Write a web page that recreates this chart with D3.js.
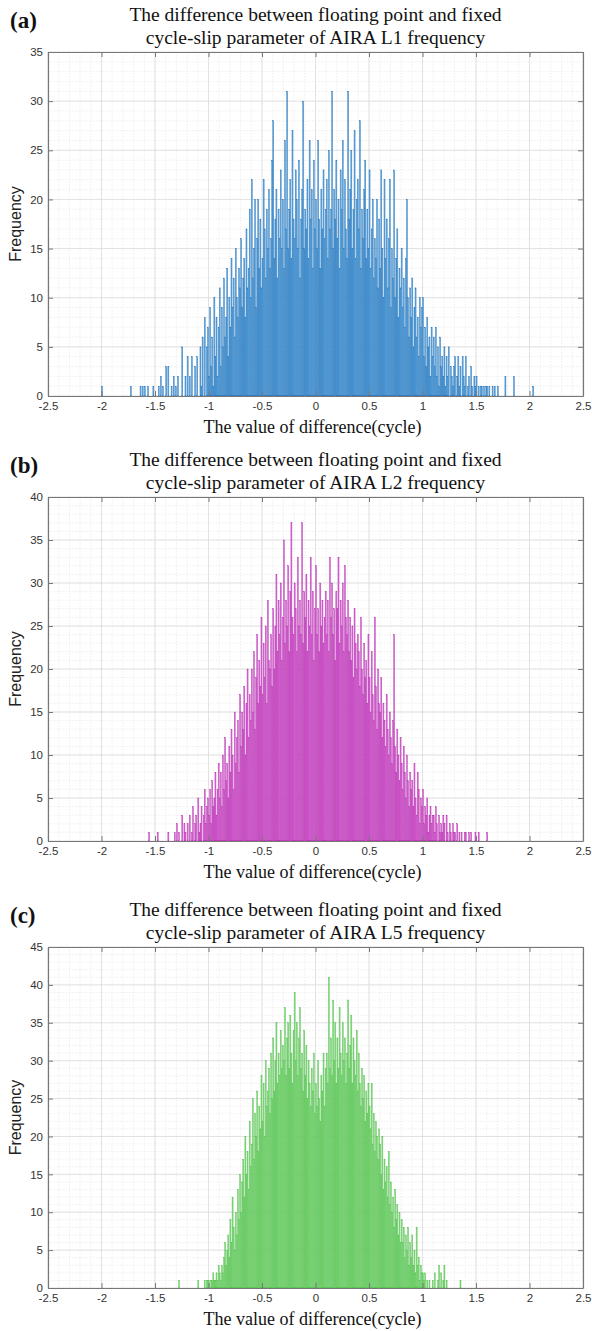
<!DOCTYPE html>
<html>
<head>
<meta charset="utf-8">
<script src="https://cdn.jsdelivr.net/npm/d3@7"></script>
<style>
  body { margin: 0; background: #fff; }
  svg { display: block; }
  .tick text { font-family: "Liberation Sans", Arial, sans-serif; font-size: 11.5px; fill: #333; }
</style>
</head>
<body>
<div id="chart"></div>
<script>
// histogram bins are 0.01 cycle wide, each row below = 10 bins (0.1 cycle)
const binWidth = 0.01;

const xTicks = [-2.5, -2, -1.5, -1, -0.5, 0, 0.5, 1, 1.5, 2, 2.5];
const xTickLabels = ["-2.5", "-2", "-1.5", "-1", "-0.5", "0", "0.5", "1", "1.5", "2", "2.5"];

const panelLetters = ["(a)", "(b)", "(c)"];
const titleLine1 = "The difference between floating point and fixed";
const titleLine2 = ["cycle-slip parameter of AIRA L1 frequency",
                    "cycle-slip parameter of AIRA L2 frequency",
                    "cycle-slip parameter of AIRA L5 frequency"];
const xLabel = "The value of difference(cycle)";
const yLabel = "Frequency";

const yMax = [35, 40, 45];

// L1, first bin starts at -2.00
const startL1 = -2.0;
const countsL1 = [
  1,0,0,0,0,0,0,0,0,0,
  0,0,0,0,0,0,0,0,0,0,
  0,0,0,0,0,0,0,1,0,0,
  0,0,0,0,0,0,1,0,1,0,
  1,0,0,1,0,0,0,0,1,0,
  0,0,0,1,0,2,0,1,0,0,
  3,0,3,0,0,1,0,2,0,1,
  0,2,0,0,0,5,0,0,2,0,
  4,0,2,0,4,0,0,3,0,4,
  0,0,5,1,6,0,8,0,5,7,
  2,9,3,6,1,10,4,8,2,7,
  11,3,9,5,12,6,8,13,4,10,
  7,14,9,12,6,15,10,8,13,11,
  16,9,12,14,8,17,11,13,19,10,
  22,12,15,20,9,16,20,13,18,11,
  14,22,17,12,19,15,21,13,16,24,
  28,14,18,21,12,19,16,23,15,20,
  13,26,17,31,15,19,22,14,27,18,
  16,23,20,15,24,12,18,21,30,15,
  19,17,22,14,26,18,21,13,24,17,
  20,15,26,18,13,21,17,23,16,19,
  22,14,25,17,19,31,15,21,18,24,
  16,20,13,23,19,26,15,22,17,14,
  31,18,21,25,15,19,27,14,20,22,
  17,28,13,19,16,21,24,14,19,15,
  23,13,17,20,12,16,14,20,11,18,
  13,23,15,10,22,14,18,11,16,22,
  9,15,12,23,10,14,17,8,13,11,
  15,9,12,7,14,20,10,6,11,8,
  12,5,9,11,6,8,4,10,7,9,
  10,4,7,3,8,5,6,2,7,4,
  6,3,7,2,5,1,6,3,4,2,
  5,1,4,2,5,0,3,2,1,3,
  4,0,2,4,1,3,0,4,2,1,
  4,0,1,2,0,3,1,0,2,1,
  2,0,1,0,1,1,0,1,0,1,
  1,0,1,0,0,1,0,1,0,0,
  1,0,0,0,0,0,0,2,0,0,
  0,0,0,0,0,2,0,0,0,0,
  0,0,0,0,0,0,0,0,0,0,
  0,0,0,1
];

// L2, first bin starts at -1.60
const startL2 = -1.6;
const countsL2 = [
  0,0,0,0,1,0,0,0,0,0,
  0,0,1,0,0,0,0,0,0,0,
  0,0,1,0,0,0,0,0,1,0,
  2,0,1,0,0,3,0,2,1,0,
  2,0,3,0,1,4,0,2,3,0,
  5,1,2,4,0,3,6,2,4,5,
  3,6,2,7,4,5,8,3,6,9,
  5,8,4,10,6,12,7,9,5,11,
  8,13,10,6,15,9,12,14,8,17,
  11,15,13,18,10,16,20,12,17,14,
  20,15,22,13,19,24,16,21,18,26,
  17,23,19,25,16,28,21,20,24,18,
  27,20,25,31,22,28,24,30,21,26,
  35,23,28,25,32,22,29,37,26,24,
  30,27,22,33,25,28,24,37,23,29,
  26,31,22,28,25,33,24,29,21,27,
  32,24,27,22,30,25,28,23,26,29,
  24,28,22,33,26,30,24,27,21,29,
  27,33,23,28,25,30,22,32,26,24,
  28,22,26,21,25,19,27,23,20,24,
  22,18,26,20,17,23,19,21,16,24,
  19,15,22,17,14,26,18,13,20,16,
  15,19,12,16,14,11,17,13,10,15,
  12,9,14,24,11,8,13,10,7,12,
  9,6,11,8,5,10,7,4,8,6,
  7,4,9,5,3,8,6,2,5,4,
  6,2,4,3,5,1,3,4,2,3,
  3,1,4,2,0,3,1,2,1,3,
  2,0,3,1,0,2,1,0,2,1,
  1,0,2,0,1,0,1,0,0,1,
  1,0,0,1,0,1,0,0,0,1,
  0,0,1,0,0,0,0,0,0,0,
  1
];

// L5, first bin starts at -1.30
const startL5 = -1.3;
const countsL5 = [
  0,0,1,0,0,0,0,0,0,0,
  0,0,0,0,0,0,0,0,0,0,
  1,0,0,0,0,0,1,0,1,1,
  1,0,1,1,2,1,1,2,1,3,
  2,1,3,2,4,6,3,5,7,4,
  9,6,12,8,5,10,7,13,9,15,
  10,14,17,12,20,15,18,13,22,16,
  19,25,17,23,20,26,18,24,21,28,
  22,27,20,30,24,26,29,23,31,25,
  33,26,30,35,27,31,28,34,29,32,
  30,37,28,33,35,29,36,31,27,34,
  39,30,35,28,33,37,29,31,26,34,
  28,32,25,30,27,24,29,26,31,23,
  27,24,30,25,22,28,26,31,24,29,
  31,27,41,29,33,28,38,30,35,27,
  33,29,37,31,28,35,30,33,27,31,
  38,29,32,36,27,33,30,28,34,26,
  31,27,24,29,25,28,22,26,23,27,
  24,21,27,19,23,18,22,20,17,21,
  19,15,20,13,17,14,16,12,18,11,
  14,10,12,8,13,9,11,7,10,6,
  9,6,8,4,7,5,8,3,6,4,
  7,3,5,2,8,3,4,1,3,2,
  2,1,2,0,1,0,1,0,0,1,
  0,2,0,0,1,3,0,2,0,1,
  3,0,1,0,0,0,0,0,0,0,
  0,0,0,0,0,1
];

const starts = [startL1, startL2, startL5];
const counts = [countsL1, countsL2, countsL5];
const faceColors = ["#63a8de", "#d66bd6", "#86d882"];
const edgeColors = ["#1c6db6", "#b42aa9", "#4cbd45"];

// layout
const svgWidth = 592;
const svgHeight = 1331;
const plotLeft = 48;
const plotRight = 583;
const plotTops = [52, 497, 947];
const plotBottoms = [396, 841, 1288];

const svg = d3.select("#chart")
  .append("svg")
  .attr("width", svgWidth)
  .attr("height", svgHeight);

svg.append("rect").attr("width", svgWidth).attr("height", svgHeight).attr("fill", "#fff");

const xScale = d3.scaleLinear().domain([-2.5, 2.5]).range([plotLeft, plotRight]);
const midX = (plotLeft + plotRight) / 2;
const serif = "'Liberation Serif', 'Times New Roman', serif";

counts.forEach(function(series, p) {
  const top = plotTops[p];
  const bottom = plotBottoms[p];
  const yScale = d3.scaleLinear().domain([0, yMax[p]]).range([bottom, top]);
  const yTicks = d3.range(0, yMax[p] + 1, 5);
  const g = svg.append("g");

  // minor grid
  const xMinor = d3.range(-25, 26).map(d => d / 10);
  const yMinor = d3.range(0, yMax[p] + 1);
  g.append("g").selectAll("line")
    .data(xMinor)
    .enter().append("line")
    .attr("x1", d => xScale(d)).attr("x2", d => xScale(d))
    .attr("y1", top).attr("y2", bottom)
    .attr("stroke", "#e8e8e8").attr("stroke-width", 0.7)
    .attr("stroke-dasharray", "1.5,1.5");
  g.append("g").selectAll("line")
    .data(yMinor)
    .enter().append("line")
    .attr("x1", plotLeft).attr("x2", plotRight)
    .attr("y1", d => yScale(d)).attr("y2", d => yScale(d))
    .attr("stroke", "#e8e8e8").attr("stroke-width", 0.7)
    .attr("stroke-dasharray", "1.5,1.5");

  // major grid
  g.append("g").selectAll("line")
    .data(xTicks)
    .enter().append("line")
    .attr("x1", d => xScale(d)).attr("x2", d => xScale(d))
    .attr("y1", top).attr("y2", bottom)
    .attr("stroke", "#dcdcdc").attr("stroke-width", 0.8);
  g.append("g").selectAll("line")
    .data(yTicks)
    .enter().append("line")
    .attr("x1", plotLeft).attr("x2", plotRight)
    .attr("y1", d => yScale(d)).attr("y2", d => yScale(d))
    .attr("stroke", "#dcdcdc").attr("stroke-width", 0.8);

  // bars
  g.append("g").selectAll("rect")
    .data(series)
    .enter().append("rect")
    .attr("x", (d, i) => xScale(starts[p] + i * binWidth))
    .attr("width", (d, i) => xScale(starts[p] + (i + 1) * binWidth) - xScale(starts[p] + i * binWidth))
    .attr("y", d => yScale(d))
    .attr("height", d => bottom - yScale(d))
    .attr("fill", faceColors[p])
    .attr("stroke", edgeColors[p])
    .attr("stroke-width", 0.35);

  // axes with inward ticks
  const bottomAxis = d3.axisBottom(xScale)
    .tickValues(xTicks)
    .tickFormat((d, i) => xTickLabels[i])
    .tickSizeInner(-5).tickSizeOuter(0).tickPadding(6);
  const leftAxis = d3.axisLeft(yScale)
    .tickValues(yTicks)
    .tickSizeInner(-5).tickSizeOuter(0).tickPadding(5);

  g.append("g").attr("class", "axis")
    .attr("transform", `translate(0, ${bottom})`)
    .call(bottomAxis);
  g.append("g").attr("class", "axis")
    .attr("transform", `translate(${plotLeft}, 0)`)
    .call(leftAxis);
  g.append("g").attr("class", "axis")
    .attr("transform", `translate(0, ${top})`)
    .call(d3.axisTop(xScale).tickValues(xTicks).tickFormat("").tickSizeInner(-5).tickSizeOuter(0));
  g.append("g").attr("class", "axis")
    .attr("transform", `translate(${plotRight}, 0)`)
    .call(d3.axisRight(yScale).tickValues(yTicks).tickFormat("").tickSizeInner(-5).tickSizeOuter(0));

  g.selectAll(".axis path").attr("stroke", "#777").attr("stroke-width", 1.2);
  g.selectAll(".axis line").attr("stroke", "#777");

  // titles and labels
  g.append("text")
    .attr("x", 10).attr("y", top - 24)
    .attr("font-family", serif)
    .attr("font-weight", "bold").attr("font-size", 23)
    .attr("fill", "#111")
    .text(panelLetters[p]);

  g.append("text")
    .attr("x", midX).attr("y", top - 31)
    .attr("text-anchor", "middle")
    .attr("font-family", serif)
    .attr("font-size", 19.5).attr("fill", "#111")
    .text(titleLine1);
  g.append("text")
    .attr("x", midX).attr("y", top - 8)
    .attr("text-anchor", "middle")
    .attr("font-family", serif)
    .attr("font-size", 19.5).attr("fill", "#111")
    .text(titleLine2[p]);

  g.append("text")
    .attr("x", midX - 3).attr("y", bottom + 37)
    .attr("text-anchor", "middle")
    .attr("font-family", serif)
    .attr("font-size", 18).attr("fill", "#111")
    .text(xLabel);

  g.append("text")
    .attr("transform", `translate(15, ${(top + bottom) / 2}) rotate(-90)`)
    .attr("text-anchor", "middle")
    .attr("dominant-baseline", "central")
    .attr("font-family", "'Liberation Sans', Arial, sans-serif")
    .attr("font-size", 16).attr("fill", "#222")
    .text(yLabel);
});
</script>
</body>
</html>
